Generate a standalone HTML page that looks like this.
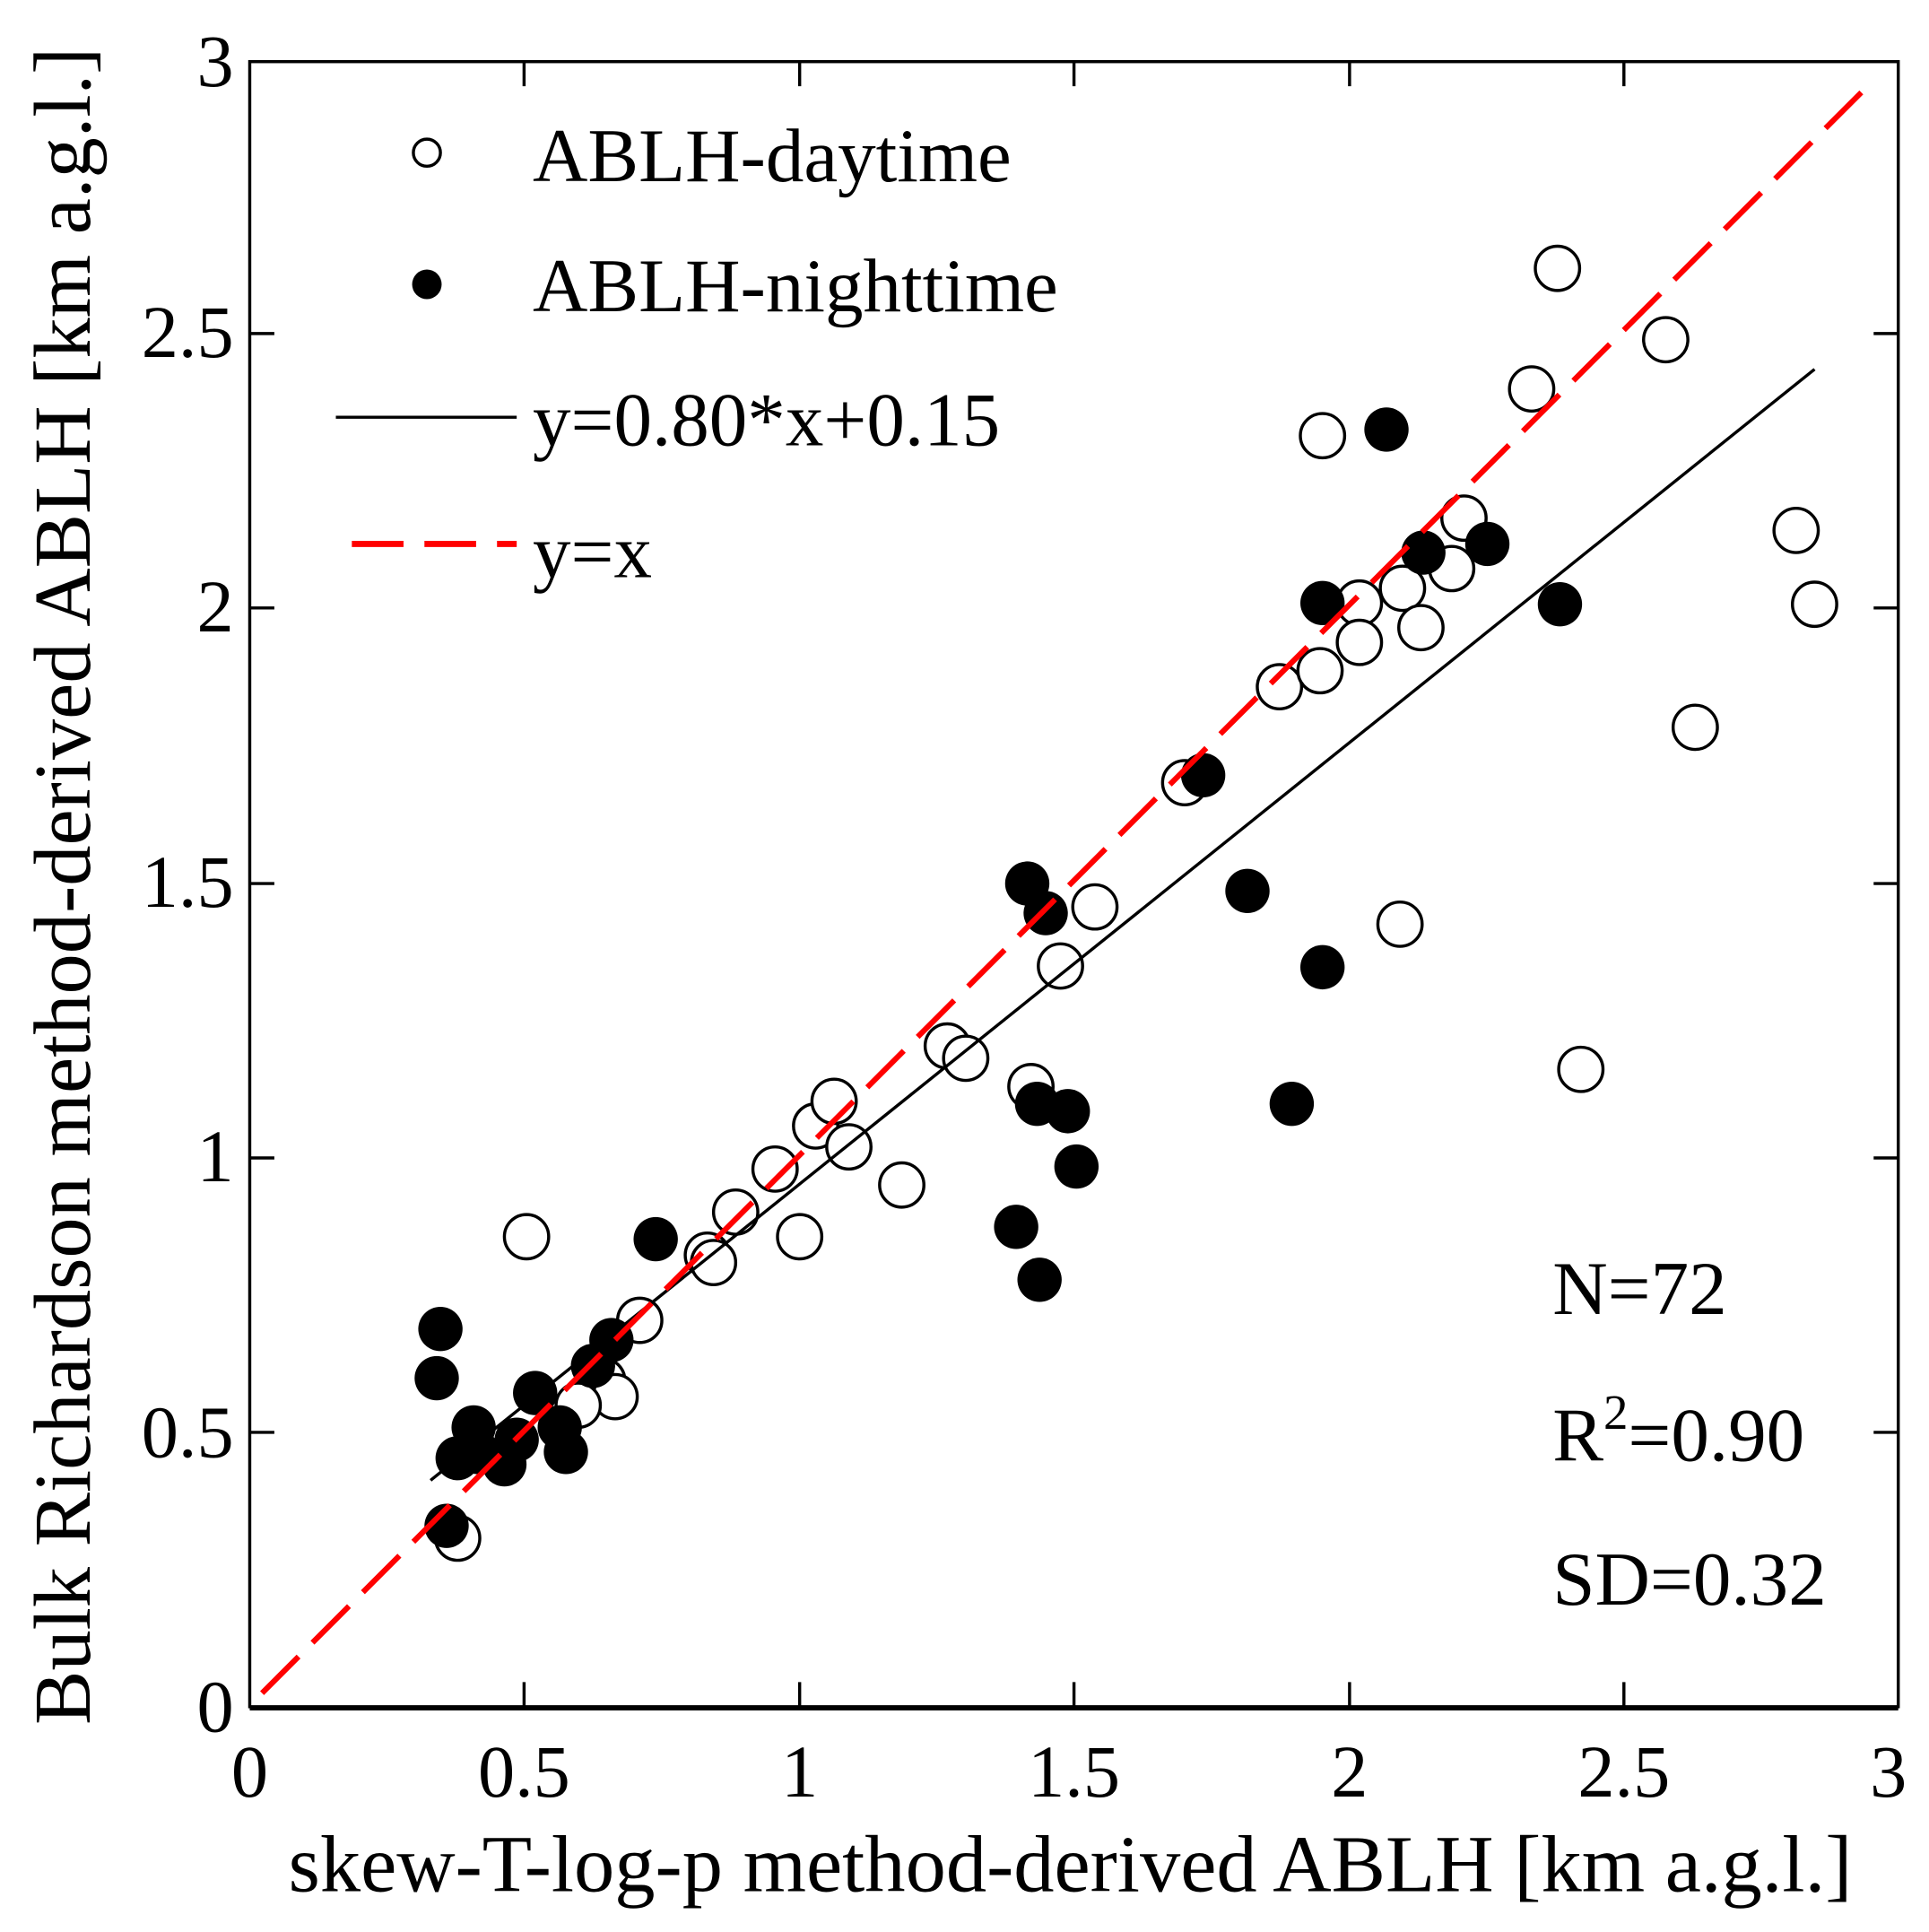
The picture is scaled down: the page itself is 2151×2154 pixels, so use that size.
<!DOCTYPE html>
<html><head><meta charset="utf-8"><style>html,body{margin:0;padding:0;background:#fff}svg{display:block}</style></head><body>
<svg width="2151" height="2154" viewBox="0 0 1568 1570" xmlns="http://www.w3.org/2000/svg" font-family="'Liberation Serif',serif">
<rect width="1568" height="1570" fill="#fff"/>
<g stroke="#000" stroke-width="2.5" fill="none">
<rect x="203" y="50" width="1340" height="1337"/>
<line x1="203" y1="1388" x2="1543" y2="1388" stroke-width="4"/>
<path d="M426 1387v-20M650 1387v-20M873 1387v-20M1097 1387v-20M1320 1387v-20M426 50v20M650 50v20M873 50v20M1097 50v20M1320 50v20M203 1164h20M203 941h20M203 718h20M203 494h20M203 271h20M1543 1164h-20M1543 941h-20M1543 718h-20M1543 494h-20M1543 271h-20"/>
</g>
<g font-size="60" text-anchor="end">
<text x="190" y="1407">0</text><text x="190" y="1184">0.5</text><text x="190" y="960">1</text><text x="190" y="737">1.5</text><text x="190" y="513">2</text><text x="190" y="290">2.5</text><text x="190" y="70">3</text>
</g>
<g font-size="60" text-anchor="middle">
<text x="203" y="1460">0</text><text x="426" y="1460">0.5</text><text x="650" y="1460">1</text><text x="873" y="1460">1.5</text><text x="1097" y="1460">2</text><text x="1320" y="1460">2.5</text><text x="1535" y="1460">3</text>
</g>
<text x="870" y="1537" font-size="66" text-anchor="middle">skew-T-log-p method-derived ABLH [km a.g.l.]</text>
<text transform="translate(73,720) rotate(-90)" font-size="66" text-anchor="middle">Bulk Richardson method-derived ABLH [km a.g.l.]</text>
<g fill="#fff" stroke="#000" stroke-width="2.5">
<circle cx="1266" cy="218" r="18"/><circle cx="1354" cy="276" r="18"/><circle cx="1245" cy="316" r="18"/><circle cx="1075" cy="354" r="18"/><circle cx="1460" cy="431" r="18"/><circle cx="1475" cy="491" r="18"/><circle cx="1378" cy="591" r="18"/><circle cx="1138" cy="751" r="18"/><circle cx="1285" cy="869" r="18"/><circle cx="1190" cy="421" r="18"/><circle cx="1180" cy="462" r="18"/><circle cx="1105" cy="490" r="18"/><circle cx="1140" cy="478" r="18"/><circle cx="1105" cy="522" r="18"/><circle cx="1155" cy="510" r="18"/><circle cx="1040" cy="558" r="18"/><circle cx="1073" cy="545" r="18"/><circle cx="963" cy="636" r="18"/><circle cx="890" cy="737" r="18"/><circle cx="862" cy="785" r="18"/><circle cx="770" cy="850" r="18"/><circle cx="785" cy="860" r="18"/><circle cx="838" cy="883" r="18"/><circle cx="663" cy="915" r="18"/><circle cx="678" cy="895" r="18"/><circle cx="690" cy="932" r="18"/><circle cx="630" cy="950" r="18"/><circle cx="733" cy="963" r="18"/><circle cx="650" cy="1005" r="18"/><circle cx="598" cy="985" r="18"/><circle cx="575" cy="1020" r="18"/><circle cx="580" cy="1026" r="18"/><circle cx="428" cy="1005" r="18"/><circle cx="520" cy="1073" r="18"/><circle cx="490" cy="1122" r="18"/><circle cx="500" cy="1135" r="18"/><circle cx="470" cy="1142" r="18"/><circle cx="372" cy="1250" r="18"/>
</g>
<g fill="#000">
<circle cx="1127" cy="349" r="18"/><circle cx="1157" cy="449" r="18"/><circle cx="1209" cy="442" r="18"/><circle cx="1075" cy="490" r="18"/><circle cx="1268" cy="491" r="18"/><circle cx="978" cy="630" r="18"/><circle cx="1014" cy="724" r="18"/><circle cx="1075" cy="786" r="18"/><circle cx="835" cy="718" r="18"/><circle cx="850" cy="742" r="18"/><circle cx="1050" cy="897" r="18"/><circle cx="843" cy="897" r="18"/><circle cx="868" cy="903" r="18"/><circle cx="875" cy="948" r="18"/><circle cx="826" cy="997" r="18"/><circle cx="845" cy="1040" r="18"/><circle cx="533" cy="1007" r="18"/><circle cx="358" cy="1080" r="18"/><circle cx="355" cy="1120" r="18"/><circle cx="497" cy="1089" r="18"/><circle cx="482" cy="1110" r="18"/><circle cx="435" cy="1132" r="18"/><circle cx="385" cy="1160" r="18"/><circle cx="388" cy="1180" r="18"/><circle cx="410" cy="1190" r="18"/><circle cx="460" cy="1180" r="18"/><circle cx="372" cy="1185" r="18"/><circle cx="363" cy="1240" r="18"/><circle cx="455" cy="1160" r="18"/><circle cx="420" cy="1170" r="18"/>
</g>
<line x1="350" y1="1203" x2="1475" y2="300" stroke="#000" stroke-width="2.5"/>
<line x1="213" y1="1376" x2="1513" y2="75" stroke="#f00" stroke-width="4.5" stroke-dasharray="42 16"/>
<circle cx="347" cy="124" r="11" fill="#fff" stroke="#000" stroke-width="2.5"/>
<circle cx="347" cy="231" r="12" fill="#000"/>
<line x1="273" y1="339" x2="420" y2="339" stroke="#000" stroke-width="2.5"/>
<path d="M286 442h42M345 442h42M404 442h16" stroke="#f00" stroke-width="5"/>
<g font-size="62">
<text x="433" y="147">ABLH-daytime</text>
<text x="433" y="253">ABLH-nighttime</text>
<text x="433" y="362">y=0.80*x+0.15</text>
<text x="433" y="469">y=x</text>
<text x="1262" y="1068">N=72</text>
<text x="1262" y="1187">R<tspan font-size="40" dy="-26">2</tspan><tspan dy="26">=0.90</tspan></text>
<text x="1262" y="1304">SD=0.32</text>
</g>
</svg>
</body></html>
